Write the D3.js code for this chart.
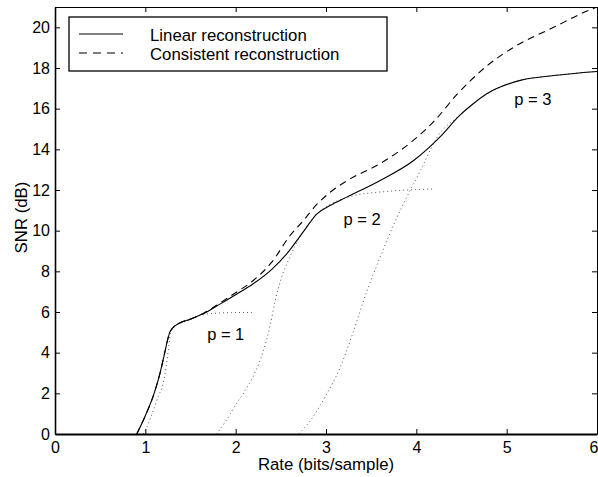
<!DOCTYPE html>
<html>
<head>
<meta charset="utf-8">
<script src="https://cdn.jsdelivr.net/npm/d3@7"></script>
<style>
  html, body { margin: 0; padding: 0; background: #fff; }
  svg { display: block; font-family: "Liberation Sans", Arial, Helvetica, sans-serif; }
</style>
</head>
<body>
<svg id="chart" width="598" height="477"></svg>
<script>
// Rate (bits/sample) vs SNR (dB)
const linearRate = [0.905, 1.0, 1.09, 1.16, 1.21, 1.245, 1.27, 1.3, 1.365, 1.5, 1.64, 1.83, 2.0, 2.195, 2.4, 2.565, 2.75, 2.9, 3.05, 3.23, 3.6, 3.97, 4.26, 4.48, 4.63, 4.78, 4.93, 5.15, 5.52, 6.0];
const linearSnr  = [0.0, 0.9, 1.9, 2.95, 3.9, 4.6, 5.0, 5.2, 5.42, 5.65, 5.91, 6.4, 6.85, 7.39, 8.1, 8.86, 9.95, 10.83, 11.25, 11.65, 12.47, 13.45, 14.6, 15.67, 16.24, 16.73, 17.06, 17.39, 17.63, 17.83];

const consistentRate = [0.905, 1.0, 1.09, 1.16, 1.21, 1.245, 1.27, 1.3, 1.365, 1.5, 1.64, 1.83, 2.0, 2.195, 2.4, 2.6, 2.75, 2.9, 3.05, 3.23, 3.6, 3.97, 4.2, 4.45, 4.78, 5.07, 5.52, 5.89, 6.0];
const consistentSnr  = [0.0, 0.9, 1.9, 2.95, 3.9, 4.6, 5.0, 5.2, 5.42, 5.65, 5.93, 6.45, 6.95, 7.55, 8.45, 9.75, 10.5, 11.3, 11.9, 12.45, 13.3, 14.45, 15.4, 16.7, 18.1, 19.0, 20.0, 20.8, 21.0];

// fixed-order reconstructions p = 1, 2, 3
const p1Rate = [0.98, 1.015, 1.126, 1.218, 1.254, 1.28, 1.33, 1.45, 1.6, 1.75, 1.95, 2.2];
const p1Snr  = [0.0, 0.33, 1.65, 2.96, 4.1, 5.0, 5.3, 5.55, 5.82, 5.93, 5.97, 5.98];

const p2Rate = [1.79, 1.9, 2.01, 2.1, 2.2, 2.3, 2.38, 2.44, 2.5, 2.6, 2.71, 2.8, 2.9, 3.05, 3.3, 3.6, 3.9, 4.2];
const p2Snr  = [0.0, 0.7, 1.5, 2.1, 2.9, 4.0, 5.3, 6.6, 7.6, 8.7, 9.7, 10.3, 10.83, 11.3, 11.72, 11.9, 12.0, 12.05];

const p3Rate = [2.70, 2.85, 3.0, 3.15, 3.3, 3.45, 3.6, 3.75, 3.9, 4.05, 4.23, 4.48, 4.78, 5.15, 5.52, 6.0];
const p3Snr  = [0.0, 0.8, 1.9, 3.2, 5.0, 7.0, 8.7, 10.3, 11.7, 13.0, 14.6, 15.67, 16.73, 17.39, 17.63, 17.83];

const xTicks = [0, 1, 2, 3, 4, 5, 6];
const yTicks = [0, 2, 4, 6, 8, 10, 12, 14, 16, 18, 20];

const curveLabels = [
  { text: "p = 1", rate: 1.89, snr: 4.62 },
  { text: "p = 2", rate: 3.40, snr: 10.28 },
  { text: "p = 3", rate: 5.29, snr: 16.2 }
];
const legendItems = [
  { text: "Linear reconstruction", dash: null },
  { text: "Consistent reconstruction", dash: "8,6" }
];

const svg = d3.select("#chart");
const mLeft = 55, mRight = 597, mTop = 7, mBottom = 434;

const x = d3.scaleLinear().domain([0, 6]).range([mLeft, mRight]);
const y = d3.scaleLinear().domain([0, 21]).range([mBottom, mTop]);

const zip = (a, b) => a.map((v, i) => [v, b[i]]);
const line = d3.line().x(d => x(d[0])).y(d => y(d[1])).curve(d3.curveMonotoneX);

// plot area
svg.append("rect").attr("x", mLeft).attr("y", mTop)
  .attr("width", mRight - mLeft).attr("height", mBottom - mTop).attr("fill", "#fff");

svg.append("clipPath").attr("id", "plotclip")
  .append("rect").attr("x", mLeft).attr("y", mTop).attr("width", mRight - mLeft).attr("height", mBottom - mTop);

const plot = svg.append("g").attr("clip-path", "url(#plotclip)");

// dotted curves for the individual orders
[[p1Rate, p1Snr], [p2Rate, p2Snr], [p3Rate, p3Snr]].forEach(([r, s]) => {
  plot.append("path").datum(zip(r, s))
    .attr("d", line).attr("fill", "none")
    .attr("stroke", "#555").attr("stroke-width", 1)
    .attr("stroke-dasharray", "1,3");
});

plot.append("path").datum(zip(consistentRate, consistentSnr))
  .attr("d", line).attr("fill", "none")
  .attr("stroke", "#000").attr("stroke-width", 1.1)
  .attr("stroke-dasharray", "7,5");

plot.append("path").datum(zip(linearRate, linearSnr))
  .attr("d", line).attr("fill", "none")
  .attr("stroke", "#000").attr("stroke-width", 1.1);

// axes with inward ticks
const fmt = d3.format("d");
const gx = svg.append("g").attr("transform", `translate(0,${mBottom})`)
  .call(d3.axisBottom(x).tickValues(xTicks).tickFormat(fmt).tickSizeInner(-5).tickSizeOuter(0).tickPadding(8));
const gy = svg.append("g").attr("transform", `translate(${mLeft},0)`)
  .call(d3.axisLeft(y).tickValues(yTicks).tickFormat(fmt).tickSizeInner(-5).tickSizeOuter(0).tickPadding(5));
const gt = svg.append("g").attr("transform", `translate(0,${mTop})`)
  .call(d3.axisTop(x).tickValues(xTicks).tickFormat("").tickSizeInner(-5).tickSizeOuter(0));
const gr = svg.append("g").attr("transform", `translate(${mRight},0)`)
  .call(d3.axisRight(y).tickValues(yTicks).tickFormat("").tickSizeInner(-5).tickSizeOuter(0));

[gx, gy, gt, gr].forEach(g => {
  g.selectAll(".domain").attr("stroke", "#000").attr("stroke-width", 1);
  g.selectAll(".tick line").attr("stroke", "#000");
  g.selectAll(".tick text").attr("fill", "#000").style("font-size", "16px")
    .style("font-family", "'Liberation Sans', Arial, sans-serif");
});
gx.select(".domain").attr("stroke-width", 2);
gy.select(".domain").attr("stroke-width", 1.6);
// keep the last rate label inside the window edge
gx.selectAll(".tick text").filter(d => d === 6).attr("text-anchor", "end").attr("x", 1);

// axis titles
svg.append("text").attr("x", (mLeft + mRight) / 2).attr("y", 470)
  .attr("text-anchor", "middle").style("font-size", "16.8px").text("Rate (bits/sample)");
svg.append("text").attr("transform", `translate(27,${(mTop + mBottom) / 2 - 3}) rotate(-90)`)
  .attr("text-anchor", "middle").style("font-size", "16.8px").text("SNR (dB)");

// curve labels
svg.selectAll(".plabel").data(curveLabels).enter().append("text")
  .attr("class", "plabel")
  .attr("x", d => x(d.rate)).attr("y", d => y(d.snr))
  .attr("text-anchor", "middle").style("font-size", "16.5px")
  .text(d => d.text);

// legend
const lg = svg.append("g");
lg.append("rect").attr("x", 69).attr("y", 17).attr("width", 318).attr("height", 54)
  .attr("fill", "#fff").attr("stroke", "#000").attr("stroke-width", 1.3);
legendItems.forEach((d, i) => {
  const yy = 34 + i * 19;
  lg.append("line").attr("x1", 79).attr("x2", 123).attr("y1", yy).attr("y2", yy)
    .attr("stroke", "#000").attr("stroke-width", 1.1)
    .attr("stroke-dasharray", d.dash);
  lg.append("text").attr("x", 150).attr("y", yy + 6.5)
    .style("font-size", "16.8px").text(d.text);
});
</script>
</body>
</html>
